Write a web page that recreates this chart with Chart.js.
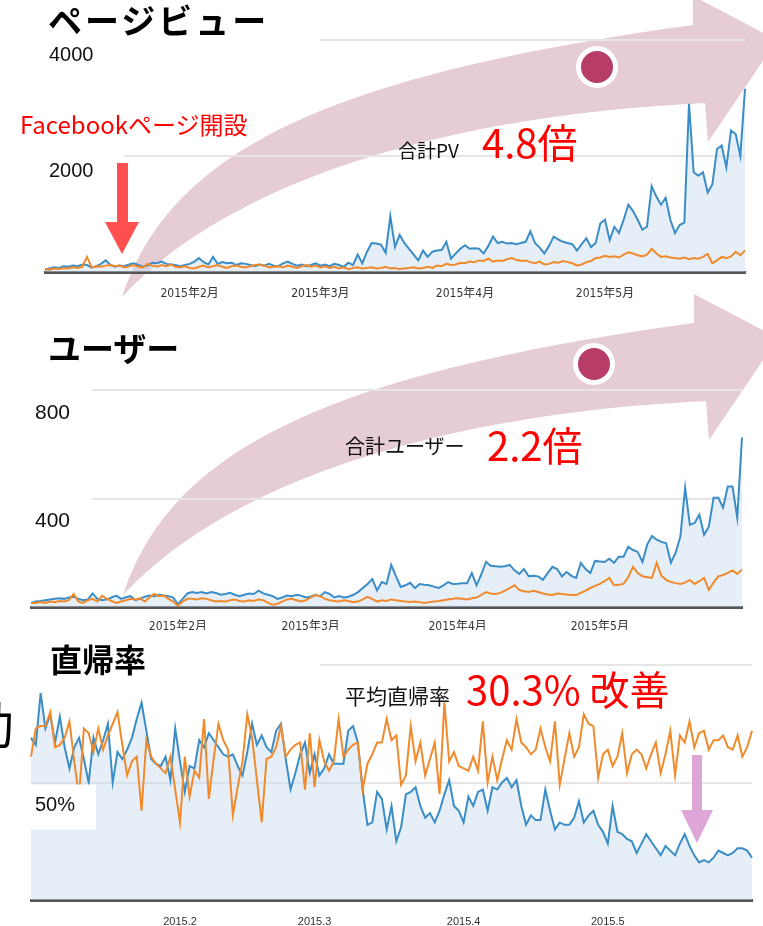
<!DOCTYPE html>
<html lang="ja">
<head>
<meta charset="utf-8">
<title>ページビュー / ユーザー / 直帰率</title>
<script src="https://cdn.jsdelivr.net/npm/chart.js@4.4.1/dist/chart.umd.min.js"></script>
<style>
  html, body { margin: 0; padding: 0; background: #fff; }
  body { width: 763px; height: 926px; position: relative; overflow: hidden;
         font-family: 'Noto Sans CJK JP', 'Noto Sans', sans-serif; }
  canvas, svg { position: absolute; left: 0; }
  .box { position: absolute; background: #fff; }
  .txt { position: absolute; white-space: nowrap; line-height: 1; color: #111; }
  .title { font-weight: 700; color: #000; }
  .red { color: #ff0000; }
</style>
</head>
<body>

<!-- big pink growth arrows (behind the charts) -->
<svg width="763" height="926" style="top:0">
  <g id="growArrow" fill="#e6ccd3">
    <path d="M122,297 C170,150 330,75 693,25 L693,-4 L777,40 L708,142 L705,103 C450,115 230,180 122,297 Z"/>
  </g>
  <use href="#growArrow" transform="translate(1,298)"/>
  <circle cx="597" cy="67" r="18.5" fill="#b83c68" stroke="#fff" stroke-width="5"/>
  <circle cx="594" cy="364" r="18.5" fill="#b83c68" stroke="#fff" stroke-width="5"/>
</svg>

<canvas id="pvChart" width="763" height="300" style="top:0"></canvas>
<canvas id="userChart" width="763" height="330" style="top:300px"></canvas>
<canvas id="bounceChart" width="763" height="286" style="top:640px"></canvas>

<!-- titles and notes -->
<div class="box" style="left:30px;top:0;width:290px;height:42px"></div>
<div class="txt title" style="left:48px;top:3px;font-size:34px;letter-spacing:3px">ページビュー</div>
<div class="txt title" style="left:48px;top:331px;font-size:33px">ユーザー</div>
<div class="box" style="left:30px;top:640px;width:290px;height:53px"></div>
<div class="txt title" style="left:50px;top:642px;font-size:32px">直帰率</div>
<div class="txt" style="left:-36px;top:697px;font-size:50px;color:#000">動</div>

<div class="txt red" style="left:20px;top:112px;font-size:24px">Facebookページ開設</div>
<div class="txt" style="left:398px;top:140px;font-size:19px">合計PV</div>
<div class="txt red" style="left:482px;top:121px;font-size:40px">4.8倍</div>
<div class="txt" style="left:345px;top:436px;font-size:20px">合計ユーザー</div>
<div class="txt red" style="left:487px;top:424px;font-size:40px">2.2倍</div>
<div class="txt" style="left:345px;top:685px;font-size:21px">平均直帰率</div>
<div class="txt red" style="left:466px;top:668px;font-size:40px">30.3% 改善</div>

<!-- small pointer arrows -->
<svg width="763" height="926" style="top:0">
  <polygon fill="#ff4f4f" points="117,163 128,163 128,222 139,222 122,254 105,222 117,222"/>
  <polygon fill="#dea6d6" points="692,755 702,755 702,810 713,810 697,843 681,810 692,810"/>
</svg>

<script>
// days Jan 1 - May 31 2015
const days = [];
for (let d = new Date(2015, 0, 1); d <= new Date(2015, 4, 31); d.setDate(d.getDate() + 1)) {
    days.push((d.getMonth() + 1) + '/' + d.getDate());
}
const monthDays = ['2/1', '3/1', '4/1', '5/1'];
const monthLabelsJa = ['2015年2月', '2015年3月', '2015年4月', '2015年5月'];
const monthLabelsDot = ['2015.2', '2015.3', '2015.4', '2015.5'];

const pvTicks = [2000, 4000];
const userTicks = [400, 800];
const bounceTicks = [50];

const pageviews = [
    40, 60, 80, 70, 100, 90, 110, 100, 130, 120,
    80, 100, 140, 200, 120, 90, 110, 100, 130, 150,
    120, 90, 110, 160, 150, 180, 140, 130, 120, 100,
    120, 140, 180, 240, 170, 130, 260, 140, 170, 150,
    160, 120, 150, 140, 120, 100, 130, 110, 140, 110,
    100, 150, 180, 140, 110, 130, 100, 120, 150, 110,
    130, 100, 140, 120, 90, 160, 120, 300, 150, 350,
    500, 490, 470, 330, 960, 430, 640, 500, 400, 300,
    200, 370, 260, 350, 370, 380, 520, 230, 320, 400,
    460, 400, 410, 400, 320, 450, 610, 500, 520, 490,
    500, 480, 500, 520, 700, 500, 420, 320, 450, 610,
    560, 520, 500, 480, 370, 480, 580, 430, 500, 840,
    900, 550, 780, 670, 900, 1160, 1050, 900, 730, 780,
    1480, 1300, 1160, 1280, 900, 670, 810, 850, 2900, 1720,
    1660, 1720, 1370, 1510, 2120, 2180, 1800, 2440, 2380, 2000,
    3160
];
const pageviewsCompare = [
    50, 40, 60, 50, 70, 60, 80, 70, 90, 260,
    80, 100, 90, 110, 120, 100, 110, 80, 100, 120,
    90, 80, 140, 110, 90, 120, 100, 130, 90, 80,
    100, 70, 60, 90, 110, 80, 100, 120, 90, 70,
    100, 110, 90, 80, 100, 120, 130, 110, 80, 90,
    100, 80, 110, 90, 70, 100, 120, 90, 110, 80,
    100, 70, 90, 60, 80, 50, 70, 80, 60, 70,
    80, 60, 70, 90, 60, 70, 50, 60, 70, 80,
    60, 70, 90, 70, 110, 100, 140, 120, 130, 160,
    150, 180, 170, 200, 190, 230, 180, 200, 190, 220,
    240, 210, 190, 200, 170, 150, 180, 130, 140, 170,
    160, 190, 170, 150, 110, 130, 170, 190, 240, 250,
    280, 260, 270, 250, 300, 340, 320, 290, 270, 300,
    400, 320, 260, 270, 250, 240, 230, 250, 220, 240,
    230, 260, 310, 150, 200, 260, 240, 270, 350, 290,
    370
];

const users = [
    15, 20, 22, 25, 28, 30, 32, 30, 35, 38,
    30, 25, 28, 50, 30, 25, 28, 35, 42, 30,
    36, 40, 25, 30, 38, 42, 40, 45, 42, 40,
    35, 10, 30, 50, 55, 52, 55, 50, 55, 52,
    45, 48, 52, 45, 40, 45, 50, 48, 60, 50,
    45, 40, 30, 35, 42, 40, 45, 42, 35, 38,
    45, 40, 55, 48, 35, 40, 35, 38, 45, 55,
    70, 85, 103, 61, 92, 85, 155, 113, 74, 80,
    89, 70, 85, 82, 80, 75, 70, 80, 92, 85,
    86, 88, 88, 125, 80, 120, 166, 152, 150, 148,
    150, 155, 135, 122, 140, 113, 115, 113, 100, 125,
    148, 140, 113, 129, 115, 107, 163, 140, 125, 170,
    168, 166, 178, 163, 185, 185, 222, 210, 203, 166,
    230, 262, 248, 240, 235, 163, 200, 260, 440, 303,
    310, 340, 266, 296, 403, 403, 366, 444, 444, 329,
    625
];
const usersCompare = [
    15, 15, 18, 15, 20, 18, 22, 20, 25, 48,
    20, 15, 25, 30, 20, 41, 30, 22, 15, 20,
    25, 30, 28, 32, 20, 35, 48, 40, 42, 30,
    20, 5, 20, 30, 30, 28, 32, 30, 25, 20,
    22, 20, 25, 28, 22, 20, 25, 22, 28, 25,
    15, 8, 12, 20, 28, 30, 25, 20, 25, 35,
    44, 40, 30, 25, 22, 20, 25, 22, 18, 20,
    28, 37, 30, 20, 25, 22, 28, 25, 22, 20,
    18, 20, 18, 15, 18, 20, 22, 25, 28, 30,
    32, 30, 28, 32, 35, 45, 55, 50, 48, 52,
    60, 70, 80, 63, 58, 55, 60, 55, 50, 46,
    44, 50, 48, 46, 44, 44, 52, 60, 70, 78,
    85, 95, 107, 80, 82, 85, 110, 148, 125, 113,
    110, 107, 163, 115, 100, 92, 88, 85, 90, 100,
    85, 95, 107, 63, 90, 113, 118, 126, 135, 122,
    137
];

const bounce = [
    69, 66, 88, 73, 79, 67, 78, 65, 56, 65,
    69, 60, 50, 69, 62, 68, 75, 50, 63, 60,
    64, 69, 77, 84, 72, 60, 58, 57, 61, 51,
    73, 59, 46, 57, 56, 68, 65, 71, 68, 65,
    62, 61, 62, 57, 53, 63, 75, 66, 70, 65,
    63, 72, 75, 60, 47, 54, 62, 67, 54, 62,
    53, 56, 62, 58, 58, 58, 72, 74, 67, 47,
    32, 33, 46, 43, 30, 40, 25, 31, 45, 46,
    48, 40, 35, 37, 33, 38, 45, 51, 40, 38,
    33, 44, 40, 46, 47, 38, 48, 47, 50, 52,
    48, 51, 40, 32, 36, 34, 34, 47, 38, 30,
    33, 32, 32, 35, 42, 33, 36, 38, 32, 29,
    24, 40, 29, 28, 26, 25, 20, 24, 28, 25,
    22, 19, 23, 21, 19, 24, 28, 23, 19, 16,
    17, 16, 18, 21, 20, 19, 20, 22, 22, 21,
    18
];
const bounceCompare = [
    61, 73, 74, 74, 80, 65, 66, 69, 76, 59,
    44, 73, 71, 63, 73, 64, 70, 75, 80, 66,
    53, 59, 61, 38, 68, 61, 58, 56, 54, 61,
    47, 33, 61, 44, 55, 52, 77, 43, 60, 75,
    68, 64, 36, 48, 59, 79, 69, 51, 33, 60,
    61, 65, 74, 61, 64, 66, 67, 47, 71, 48,
    68, 59, 55, 59, 77, 61, 64, 66, 67, 47,
    58, 62, 67, 67, 77, 68, 70, 49, 53, 74,
    59, 67, 53, 60, 67, 45, 84, 59, 63, 57,
    56, 55, 61, 55, 76, 50, 61, 51, 60, 68,
    64, 77, 67, 65, 62, 64, 73, 65, 59, 76,
    49, 60, 71, 61, 65, 79, 75, 74, 52, 62,
    64, 57, 61, 71, 54, 62, 64, 62, 56, 62,
    67, 54, 62, 72, 53, 70, 67, 76, 65, 71,
    72, 64, 68, 68, 70, 65, 64, 70, 61, 65,
    72
];

const BLUE = '#3a8dc6';
const ORANGE = '#f08a2c';

// one GA-style area/line chart
function drawChart(id, blue, orange, p) {
    new Chart(document.getElementById(id), {
        type: 'line',
        data: {
            labels: days,
            datasets: [
                { data: orange, borderColor: ORANGE, borderWidth: 2, pointRadius: 0, fill: false },
                { data: blue, borderColor: BLUE, borderWidth: 2, pointRadius: 0,
                  fill: 'origin', backgroundColor: 'rgba(200,220,240,0.45)' }
            ]
        },
        options: {
            responsive: false,
            animation: false,
            events: [],
            layout: { padding: p.padding },
            plugins: { legend: { display: false }, tooltip: { enabled: false } },
            scales: {
                x: {
                    grid: { display: false },
                    border: { color: '#555', width: 3 },
                    afterFit: s => { s.height = p.xHeight; },
                    ticks: {
                        autoSkip: false,
                        maxRotation: 0,
                        padding: p.xPad,
                        color: '#333',
                        font: p.xFont,
                        callback: (v, i) => {
                            const k = monthDays.indexOf(days[i]);
                            return k >= 0 ? p.monthLabels[k] : '';
                        }
                    }
                },
                y: {
                    min: 0,
                    max: p.max,
                    afterFit: s => { s.width = 0; },
                    border: { display: false },
                    grid: {
                        drawTicks: false,
                        lineWidth: 2,
                        color: c => c.tick.value === 0 ? 'rgba(0,0,0,0)' : '#e6e6e6'
                    },
                    ticks: {
                        z: 1,   // labels (with white boxes) above the lines, grid stays below
                        stepSize: p.step,
                        mirror: true,
                        padding: 4,
                        labelOffset: p.labelOffset,
                        color: '#111',
                        font: { family: 'Liberation Sans, Arial, sans-serif', size: p.ySize },
                        showLabelBackdrop: c => p.yTicks.includes(c.tick.value),
                        backdropColor: '#fff',
                        backdropPadding: p.backdrop,
                        callback: v => p.yTicks.includes(v) ? p.yFormat(v) : ''
                    }
                }
            }
        }
    });
}

const narrowFont = { family: "'Liberation Sans Narrow', 'DejaVu Sans Condensed', 'Noto Sans CJK JP', sans-serif", size: 12 };

drawChart('pvChart', pageviews, pageviewsCompare, {
    padding: { left: 45, right: 18, top: 40, bottom: 0 },
    xHeight: 28, xPad: 7, xFont: narrowFont, monthLabels: monthLabelsJa,
    max: 4000, step: 2000, yTicks: pvTicks, yFormat: v => String(v),
    ySize: 20, labelOffset: 15, backdrop: { top: 5, bottom: 4, left: 4, right: 30 }
});

drawChart('userChart', users, usersCompare, {
    padding: { left: 31, right: 21, top: 90, bottom: 0 },
    xHeight: 23, xPad: 5, xFont: narrowFont, monthLabels: monthLabelsJa,
    max: 800, step: 400, yTicks: userTicks, yFormat: v => String(v),
    ySize: 21, labelOffset: 23, backdrop: { top: 12, bottom: 10, left: 4, right: 22 }
});

drawChart('bounceChart', bounce, bounceCompare, {
    padding: { left: 31, right: 11, top: 25, bottom: 0 },
    xHeight: 26, xPad: 7, xFont: { family: 'Liberation Sans, Arial, sans-serif', size: 11 },
    monthLabels: monthLabelsDot,
    max: 100, step: 50, yTicks: bounceTicks, yFormat: v => v + '%',
    ySize: 20, labelOffset: 23, backdrop: { top: 9, bottom: 12, left: 4, right: 21 }
});
</script>
</body>
</html>
